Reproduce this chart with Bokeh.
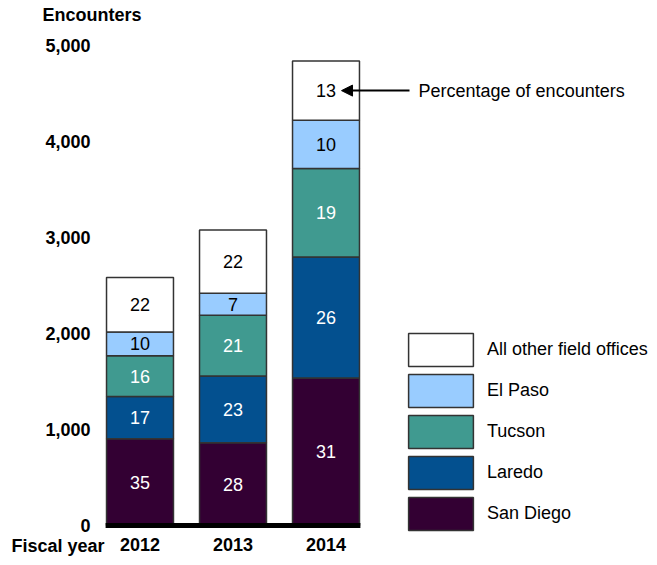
import numpy as np
from bokeh.plotting import figure
from bokeh.models import (ColumnDataSource, Range1d, FixedTicker, NumeralTickFormatter,
                          Legend, LegendItem, Label, Arrow, NormalHead)
from bokeh.core.properties import value
from bokeh.embed import file_html
from bokeh.resources import INLINE

# ---- data ----
years = [2012, 2013, 2014]
series_names = ["San Diego", "Laredo", "Tucson", "El Paso", "All other field offices"]
san_diego = [903, 861, 1536]
laredo = [442, 697, 1262]
tucson = [423, 633, 921]
el_paso = [247, 228, 502]
all_other = [569, 660, 618]
pct_san_diego = [35, 28, 31]
pct_laredo = [17, 23, 26]
pct_tucson = [16, 21, 19]
pct_el_paso = [10, 7, 10]
pct_all_other = [22, 22, 13]
y_ticks = [0, 1000, 2000, 3000, 4000, 5000]

series_values = [san_diego, laredo, tucson, el_paso, all_other]
series_pcts = [pct_san_diego, pct_laredo, pct_tucson, pct_el_paso, pct_all_other]
colors = ["#330033", "#03508F", "#409A90", "#99CCFF", "#FFFFFF"]
text_colors = ["white", "white", "white", "black", "black"]

FONT = "Liberation Sans"
BW = 0.72
W, H = 657, 565
PX_X = 93.0      # pixels per year
PX_Y = 0.096     # pixels per encounter
X0 = 2012 - 139.5 / PX_X
Y0 = -(H - 525) / PX_Y

p = figure(width=W, height=H, output_backend="svg", toolbar_location=None,
           x_range=Range1d(X0, X0 + W / PX_X), y_range=Range1d(Y0, Y0 + H / PX_Y),
           min_border_left=0, min_border_right=0, min_border_top=0, min_border_bottom=0)
p.outline_line_color = None
p.xgrid.visible = False
p.ygrid.visible = False
p.background_fill_color = "white"
p.border_fill_color = "white"

bottom = np.zeros(len(years))
renderers = []
lx, ly, lt, lc = [], [], [], []
for name, vals, pcts, col, tcol in zip(series_names, series_values, series_pcts, colors, text_colors):
    vals = np.array(vals, dtype=float)
    top = bottom + vals
    src = ColumnDataSource(dict(x=years, bottom=bottom.copy(), top=top))
    r = p.vbar(x="x", bottom="bottom", top="top", width=BW, source=src,
               fill_color=col, line_color="#333333", line_width=1.5)
    renderers.append((name, r))
    for i in range(len(years)):
        lx.append(years[i]); ly.append((bottom[i] + top[i]) / 2)
        lt.append(str(pcts[i])); lc.append(tcol)
    bottom = top

lab_src = ColumnDataSource(dict(x=lx, y=ly, text=lt, color=lc))
p.text(x="x", y="y", text="text", text_color="color", source=lab_src,
       text_align="center", text_baseline="middle",
       text_font=value(FONT), text_font_size=value("18px"))

# baseline
p.segment(x0=[min(years) - BW / 2 - 0.01], y0=[0], x1=[max(years) + BW / 2 + 0.01], y1=[0],
          line_color="black", line_width=5)

# axes (fixed inside the frame so that the side panels take no room)
p.yaxis.ticker = FixedTicker(ticks=y_ticks)
p.yaxis.formatter = NumeralTickFormatter(format="0,0")
p.yaxis.fixed_location = X0 + 96 / PX_X
p.xaxis.ticker = FixedTicker(ticks=years)
p.xaxis.fixed_location = -3 / PX_Y
for ax in (p.xaxis[0], p.yaxis[0]):
    ax.axis_line_color = None
    ax.major_tick_line_color = None
    ax.minor_tick_line_color = None
    ax.major_tick_out = 0
    ax.major_tick_in = 0
    ax.major_label_text_font = FONT
    ax.major_label_text_font_size = "18px"
    ax.major_label_text_font_style = "bold"
    ax.major_label_text_color = "black"
p.yaxis.major_label_standoff = 6
p.xaxis.major_label_standoff = 9

# legend
items = [LegendItem(label=n, renderers=[r]) for n, r in reversed(renderers)]
legend = Legend(items=items, location=(400, 31), orientation="vertical",
                glyph_width=81, glyph_height=41, spacing=0, padding=0, margin=0,
                label_standoff=6, border_line_color=None, background_fill_alpha=0,
                label_text_font=FONT, label_text_font_size="18px", label_text_color="black")
p.add_layout(legend)

# annotation arrow
y_ann = float(bottom[-1] - all_other[-1] / 2)
p.add_layout(Arrow(end=NormalHead(size=11, fill_color="black", line_color="black"),
                   x_start=years[-1] + 0.898, y_start=y_ann,
                   x_end=years[-1] + 0.167, y_end=y_ann,
                   line_color="black", line_width=2))
p.add_layout(Label(x=years[-1] + 0.995, y=y_ann, text="Percentage of encounters",
                   text_baseline="middle", text_align="left",
                   text_font=FONT, text_font_size="18px", text_color="black"))

p.add_layout(Label(x=X0 + 42 / PX_X, y=(525 - 14) / PX_Y, text="Encounters",
                   text_baseline="middle", text_align="left", text_font_style="bold",
                   text_font=FONT, text_font_size="18px", text_color="black"))
p.add_layout(Label(x=X0 + 11 / PX_X, y=(525 - 545) / PX_Y, text="Fiscal year",
                   text_baseline="middle", text_align="left", text_font_style="bold",
                   text_font=FONT, text_font_size="18px", text_color="black"))

open("out.html", "w").write(file_html(p, INLINE))
